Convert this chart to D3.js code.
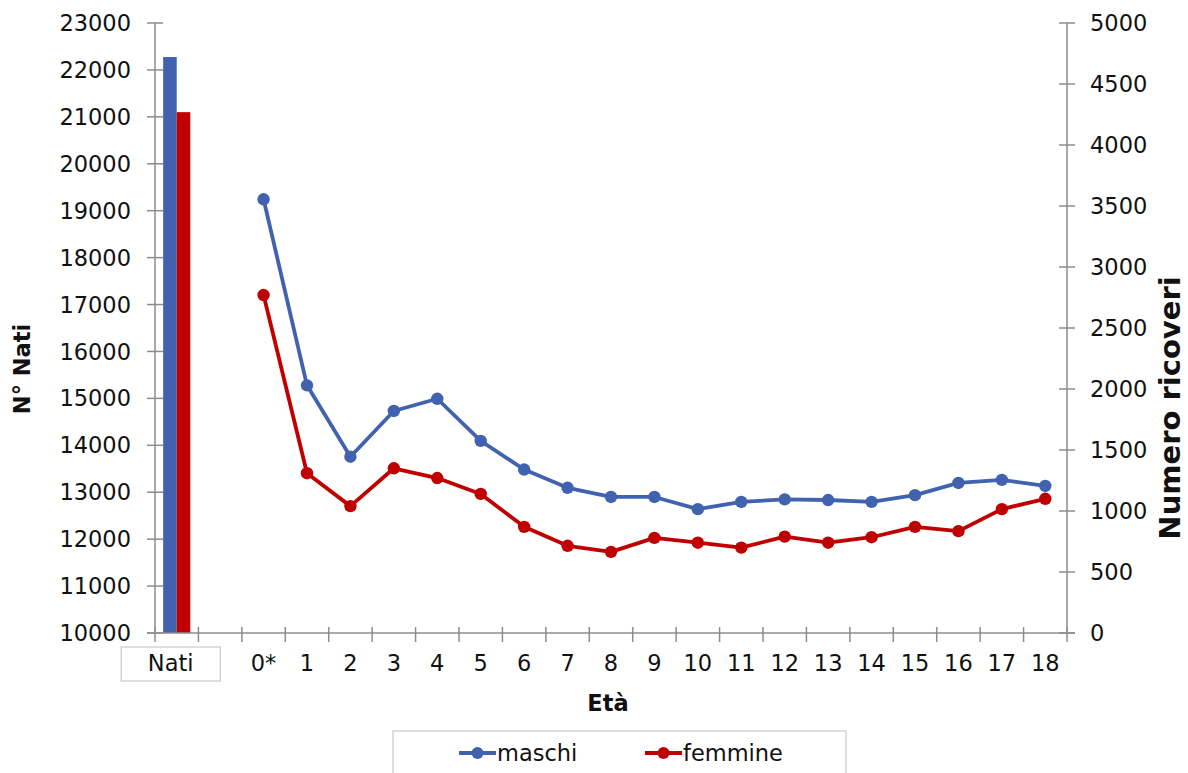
<!DOCTYPE html>
<html><head><meta charset="utf-8">
<script src="https://cdn.jsdelivr.net/npm/d3@7"></script>
<style>
body{margin:0;background:#fff;}
text{font-family:"DejaVu Sans",Verdana,sans-serif;fill:#111;}
</style></head>
<body>
<svg id="c" width="1188" height="773"></svg>
<script>
const categories = ["Nati", "", "0*", "1", "2", "3", "4", "5", "6", "7", "8", "9", "10", "11", "12", "13", "14", "15", "16", "17", "18"];
const ageLabels = ["0*", "1", "2", "3", "4", "5", "6", "7", "8", "9", "10", "11", "12", "13", "14", "15", "16", "17", "18"];
const series = ["maschi", "femmine"];
const natiValues = [22275, 21100];
const maschi = [3555, 2030, 1445, 1820, 1920, 1575, 1340, 1190, 1115, 1115, 1015, 1075, 1095, 1090, 1075, 1130, 1230, 1255, 1205];
const femmine = [2770, 1310, 1040, 1350, 1270, 1140, 870, 715, 665, 780, 740, 700, 790, 740, 785, 870, 835, 1015, 1100];
const leftTicks = [10000, 11000, 12000, 13000, 14000, 15000, 16000, 17000, 18000, 19000, 20000, 21000, 22000, 23000];
const rightTicks = [0, 500, 1000, 1500, 2000, 2500, 3000, 3500, 4000, 4500, 5000];
const colors = {maschi: "#4162AE", femmine: "#C00000"};
const axisColor = "#8c8c8c";

const svg = d3.select("#c");
const x0 = 155, x1 = 1067, yTop = 23, yBot = 633;

const x = d3.scaleBand().domain(categories).range([x0, x1]).padding(0);
const yL = d3.scaleLinear().domain([10000, 23000]).range([yBot, yTop]);
const yR = d3.scaleLinear().domain([0, 5000]).range([yBot, yTop]);
const xSub = d3.scaleBand().domain(series).range([0, x.bandwidth()]).paddingOuter(0.6).paddingInner(0);

// Bars
svg.append("g").selectAll("rect").data(series).join("rect")
  .attr("x", d => x("Nati") + xSub(d))
  .attr("width", xSub.bandwidth())
  .attr("y", (d, i) => yL(natiValues[i]))
  .attr("height", (d, i) => yBot - yL(natiValues[i]))
  .attr("fill", d => colors[d]);

// Left axis
const gL = svg.append("g").attr("transform", `translate(${x0},0)`);
gL.append("line").attr("y1", yTop).attr("y2", yBot).attr("stroke", axisColor).attr("stroke-width", 1.5);
gL.selectAll("line.t").data(leftTicks).join("line").attr("class", "t")
  .attr("x1", -8).attr("x2", 8).attr("y1", d => yL(d)).attr("y2", d => yL(d))
  .attr("stroke", axisColor).attr("stroke-width", 1.5);
gL.selectAll("text").data(leftTicks).join("text")
  .attr("x", -24).attr("y", d => yL(d)).attr("dy", "0.36em")
  .attr("text-anchor", "end").attr("font-size", 22.5).text(d => d);

// Right axis
const gR = svg.append("g").attr("transform", `translate(${x1},0)`);
gR.append("line").attr("y1", yTop).attr("y2", yBot).attr("stroke", axisColor).attr("stroke-width", 1.5);
gR.selectAll("line.t").data(rightTicks).join("line").attr("class", "t")
  .attr("x1", -8).attr("x2", 8).attr("y1", d => yR(d)).attr("y2", d => yR(d))
  .attr("stroke", axisColor).attr("stroke-width", 1.5);
gR.selectAll("text").data(rightTicks).join("text")
  .attr("x", 23).attr("y", d => yR(d)).attr("dy", "0.36em")
  .attr("text-anchor", "start").attr("font-size", 22.5).text(d => d);

// X axis
const gX = svg.append("g");
gX.append("line").attr("x1", x0 - 8).attr("x2", x1 + 8).attr("y1", yBot).attr("y2", yBot)
  .attr("stroke", axisColor).attr("stroke-width", 1.5);
const tickPos = categories.map(c => x(c)).concat([x1]);
gX.selectAll("line.t").data(tickPos).join("line").attr("class", "t")
  .attr("x1", d => d).attr("x2", d => d).attr("y1", yBot - 6).attr("y2", yBot + 9)
  .attr("stroke", axisColor).attr("stroke-width", 1.5);
gX.selectAll("text.age").data(ageLabels).join("text").attr("class", "age")
  .attr("x", d => x(d) + x.bandwidth() / 2).attr("y", 671)
  .attr("text-anchor", "middle").attr("font-size", 22.5).text(d => d);
const natiC = x("Nati") + x.bandwidth() / 2 - 6;
gX.append("rect").attr("x", natiC - 49.5).attr("y", 647).attr("width", 99).attr("height", 34)
  .attr("fill", "#fff").attr("stroke", "#c8c8c8").attr("stroke-width", 1.2);
gX.append("text").attr("x", natiC).attr("y", 671).attr("text-anchor", "middle")
  .attr("font-size", 22.5).text("Nati");

// Axis titles
svg.append("text").attr("transform", `translate(30,369) rotate(-90)`)
  .attr("text-anchor", "middle").attr("font-size", 22.5).attr("font-weight", "bold").text("N° Nati");
svg.append("text").attr("transform", `translate(1180,408) rotate(-90)`)
  .attr("text-anchor", "middle").attr("font-size", 29).attr("font-weight", "bold").text("Numero ricoveri");
svg.append("text").attr("x", 608).attr("y", 711)
  .attr("text-anchor", "middle").attr("font-size", 22.5).attr("font-weight", "bold").text("Età");

// Lines
const line = d3.line().x((d, i) => x(ageLabels[i]) + x.bandwidth() / 2).y(d => yR(d));
[["maschi", maschi], ["femmine", femmine]].forEach(([name, vals]) => {
  svg.append("path").datum(vals).attr("d", line).attr("fill", "none")
    .attr("stroke", colors[name]).attr("stroke-width", 3.8).attr("stroke-linejoin", "round");
  svg.append("g").selectAll("circle").data(vals).join("circle")
    .attr("cx", (d, i) => x(ageLabels[i]) + x.bandwidth() / 2).attr("cy", d => yR(d))
    .attr("r", 6.2).attr("fill", colors[name]);
});

// Legend
const lg = svg.append("g");
lg.append("rect").attr("x", 393).attr("y", 731).attr("width", 453).attr("height", 70)
  .attr("fill", "#fff").attr("stroke", "#c8c8c8").attr("stroke-width", 1.2);
const legendPos = [459, 645];
series.forEach((s, i) => {
  const lx = legendPos[i];
  lg.append("line").attr("x1", lx).attr("x2", lx + 37).attr("y1", 753).attr("y2", 753)
    .attr("stroke", colors[s]).attr("stroke-width", 3.8);
  lg.append("circle").attr("cx", lx + 18.5).attr("cy", 753).attr("r", 6).attr("fill", colors[s]);
  lg.append("text").attr("x", lx + 38).attr("y", 753).attr("dy", "0.36em")
    .attr("font-size", 22.5).text(s);
});
</script>
</body></html>
